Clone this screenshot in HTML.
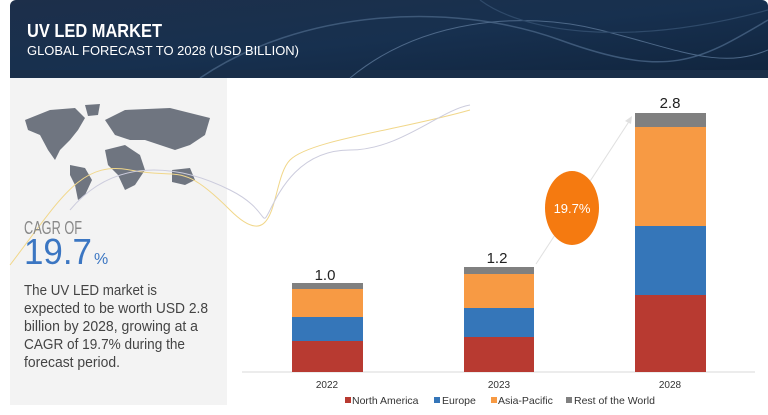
<!DOCTYPE html>
<html><head><meta charset="utf-8"><style>
body{margin:0;width:768px;height:410px;background:#fff;overflow:hidden;font-family:"Liberation Sans",sans-serif}
</style></head><body>
<svg width="768" height="410" viewBox="0 0 768 410" xmlns="http://www.w3.org/2000/svg">
<defs><linearGradient id="hg" x1="0" y1="0" x2="1" y2="1"><stop offset="0" stop-color="#1d2f4a"/><stop offset="0.5" stop-color="#17304f"/><stop offset="1" stop-color="#10243d"/></linearGradient></defs>
<rect x="10" y="0" width="758" height="78" rx="6" fill="url(#hg)"/>
<rect x="10" y="70" width="758" height="8" fill="#1a2e48"/>
<path d="M200 78 C300 10 450 0 560 40 S700 60 768 20" stroke="#3d5878" stroke-width="1.5" fill="none"/>
<path d="M350 78 C420 20 520 10 600 30 S720 70 768 50" stroke="#4d6888" stroke-width="1" fill="none"/>
<path d="M480 0 C520 30 620 50 768 10" stroke="#2f4a6a" stroke-width="1.2" fill="none"/>
<text x="27" y="37" font-size="18" font-weight="bold" fill="#fff" textLength="135" lengthAdjust="spacingAndGlyphs">UV LED MARKET</text>
<text x="27" y="55" font-size="13" fill="#fff" textLength="272" lengthAdjust="spacingAndGlyphs">GLOBAL FORECAST TO 2028 (USD BILLION)</text>
<rect x="10" y="78" width="217" height="327" fill="#f3f3f3"/>
<g fill="#6f7580">
<path d="M25 120 L50 110 L75 108 L85 118 L78 130 L70 140 L60 150 L55 160 L48 150 L40 135 L28 130Z"/>
<path d="M85 105 L100 104 L98 115 L88 116Z"/>
<path d="M70 165 L85 168 L92 180 L85 195 L78 200 L75 185 L70 175Z"/>
<path d="M105 120 L125 110 L170 108 L210 118 L205 135 L190 145 L175 150 L160 145 L145 140 L130 140 L115 135Z"/>
<path d="M105 150 L125 145 L140 155 L145 170 L135 185 L125 190 L118 175 L108 165Z"/>
<path d="M172 170 L190 168 L195 180 L185 185 L172 182Z"/>
</g>
<path d="M10 265 C60 200 80 160 130 170 S180 160 230 210 S270 180 290 160 S400 130 470 110" stroke="#f1d78a" stroke-width="1" fill="none"/>
<path d="M70 210 C120 150 190 170 230 190 S260 230 270 210 S300 150 350 150 S440 110 470 105" stroke="#ccd" stroke-width="1" fill="none"/>
<text x="24" y="234" font-size="18" fill="#888" textLength="58" lengthAdjust="spacingAndGlyphs">CAGR OF</text>
<text x="24" y="264" font-size="36" fill="#3b76c2" textLength="68" lengthAdjust="spacingAndGlyphs">19.7</text>
<text x="94" y="264" font-size="16" fill="#3b76c2">%</text>
<g font-size="15" fill="#444" lengthAdjust="spacingAndGlyphs">
<text x="24" y="295" textLength="133" lengthAdjust="spacingAndGlyphs">The UV LED market is</text>
<text x="24" y="313" textLength="184" lengthAdjust="spacingAndGlyphs">expected to be worth USD 2.8</text>
<text x="24" y="331" textLength="174" lengthAdjust="spacingAndGlyphs">billion by 2028, growing at a</text>
<text x="24" y="349" textLength="161" lengthAdjust="spacingAndGlyphs">CAGR of 19.7% during the</text>
<text x="24" y="367" textLength="96" lengthAdjust="spacingAndGlyphs">forecast period.</text>
</g>
<line x1="242" y1="372" x2="755" y2="372" stroke="#e6e6e6" stroke-width="1.5"/>
<rect x="292" y="341" width="71" height="31" fill="#b83a31"/>
<rect x="292" y="317" width="71" height="24" fill="#3576b9"/>
<rect x="292" y="289" width="71" height="28" fill="#f79a44"/>
<rect x="292" y="283" width="71" height="6" fill="#808080"/>
<rect x="464" y="337" width="70" height="35" fill="#b83a31"/>
<rect x="464" y="308" width="70" height="29" fill="#3576b9"/>
<rect x="464" y="274" width="70" height="34" fill="#f79a44"/>
<rect x="464" y="267" width="70" height="7" fill="#808080"/>
<rect x="635" y="295" width="71" height="77" fill="#b83a31"/>
<rect x="635" y="226" width="71" height="69" fill="#3576b9"/>
<rect x="635" y="127" width="71" height="99" fill="#f79a44"/>
<rect x="635" y="113" width="71" height="14" fill="#808080"/>
<g font-size="15" fill="#222" text-anchor="middle">
<text x="325" y="280">1.0</text><text x="497" y="263">1.2</text><text x="670" y="108">2.8</text>
</g>
<line x1="536" y1="264" x2="630" y2="120" stroke="#e0e0e0" stroke-width="1"/>
<path d="M632 116 L625 121 L631 124Z" fill="#e0e0e0"/>
<ellipse cx="572" cy="208" rx="27" ry="37" fill="#f57a10"/>
<text x="572" y="213" font-size="13" fill="#fff" text-anchor="middle">19.7%</text>
<g font-size="10" fill="#333" text-anchor="middle">
<text x="327" y="388">2022</text><text x="499" y="388">2023</text><text x="670" y="388">2028</text>
</g>
<g font-size="10.5" fill="#333">
<rect x="345" y="397" width="6" height="6" fill="#b83a31"/><text x="352" y="404">North America</text>
<rect x="434" y="397" width="6" height="6" fill="#3576b9"/><text x="442" y="404">Europe</text>
<rect x="491" y="397" width="6" height="6" fill="#f79a44"/><text x="498" y="404">Asia-Pacific</text>
<rect x="566" y="397" width="6" height="6" fill="#808080"/><text x="574" y="404">Rest of the World</text>
</g>
</svg>
</body></html>
